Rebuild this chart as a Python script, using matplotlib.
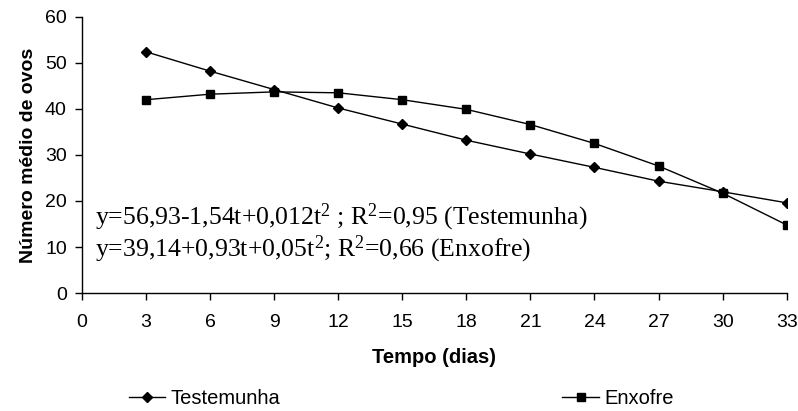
import matplotlib
matplotlib.use("Agg")
import matplotlib.pyplot as plt

# dias de avaliacao
tempo = [3, 6, 9, 12, 15, 18, 21, 24, 27, 30, 33]
testemunha = [52.4, 48.2, 44.2, 40.2, 36.7, 33.2, 30.2, 27.3, 24.3, 22.0, 19.6]
enxofre = [42.0, 43.2, 43.7, 43.5, 42.0, 39.9, 36.6, 32.5, 27.6, 21.7, 14.8]
xticks = list(range(0, 34, 3))
yticks = list(range(0, 61, 10))

plt.rcParams['font.family'] = ['Liberation Sans', 'DejaVu Sans']
plt.rcParams['mathtext.fontset'] = 'custom'
plt.rcParams['mathtext.rm'] = 'Liberation Serif'
plt.rcParams['mathtext.it'] = 'Liberation Serif'

fig = plt.figure(figsize=(7.98, 4.11), dpi=100)
ax = fig.add_axes([0.1028, 0.287, 0.883, 0.672])

ax.plot(tempo, testemunha, color='black', lw=1, marker='D', markersize=5.5, label='Testemunha')
ax.plot(tempo, enxofre, color='black', lw=1, marker='s', markersize=5.5, label='Enxofre')

ax.set_xlim(0, 33)
ax.set_ylim(0, 60)
ax.set_xticks(xticks)
ax.set_yticks(yticks)
ax.tick_params(direction='out', length=5, width=1, labelsize=14)
ax.tick_params(axis='x', pad=10)
ax.tick_params(axis='y', pad=6)
for s in ['top', 'right']:
    ax.spines[s].set_visible(False)
ax.spines['left'].set_linewidth(1)
ax.spines['bottom'].set_linewidth(1)

ax.set_xlabel('Tempo (dias)', fontsize=14.5, fontweight='bold', labelpad=12)
ax.set_ylabel('Número médio de ovos', fontsize=14, fontweight='bold', labelpad=6)

equacoes = (r"y=56,93-1,54t+0,012t$^2$ ; R$^2$=0,95 (Testemunha)" + "\n"
            + r"y=39,14+0,93t+0,05t$^2$; R$^2$=0,66 (Enxofre)")
ax.text(0.62, 13.0, equacoes, family='Liberation Serif', fontsize=18.5,
        va='center', linespacing=1.0)

fig.legend(loc='center', bbox_to_anchor=(0.503, 0.031), ncol=2, frameon=False,
           fontsize=14.5, handlelength=1.8, columnspacing=14, handletextpad=0.3)

fig.savefig('out.png', dpi=100)
